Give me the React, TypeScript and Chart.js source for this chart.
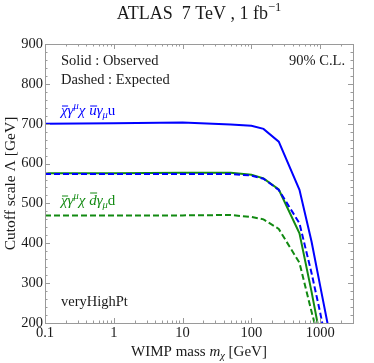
import { useEffect, useRef } from "react";
import { Chart, registerables } from "chart.js";

Chart.register(...registerables);

// ---- data ----
const masses = [0.1, 1, 10, 50, 100, 150, 250, 500, 750, 1000, 1300];
const uObserved = [700, 701, 703, 698, 695, 687, 655, 534, 404, 293, 193];
const uExpected = [574, 574, 574, 574, 570, 562, 534, 450, 325, 226, 128];
const dObserved = [576, 576, 577, 577, 572, 563, 535, 425, 278, 165, 60];
const dExpected = [470, 470, 470, 471, 466, 460, 436, 351, 228, 146, 50];

const xTickValues = [0.1, 1, 10, 100, 1000];
const xTickLabels = ["0.1", "1", "10", "100", "1000"];
const yTickValues = [200, 300, 400, 500, 600, 700, 800, 900];

const FONT = '"Liberation Serif", "DejaVu Serif", serif';
const BLUE = "#0000ff";
const GREEN = "#128a12";
const TEXT = "#1a1a1a";
const FRAME = "#9a9a9a";

type Seg = { t: string; it?: boolean; sup?: boolean; sub?: boolean; bar?: number };

function drawRich(
  ctx: CanvasRenderingContext2D,
  segs: Seg[],
  x: number,
  y: number,
  size: number,
  color: string,
  align: "left" | "center" | "right" = "left"
) {
  const fontFor = (s: Seg) =>
    `${s.it ? "italic " : ""}${s.sup || s.sub ? size * 0.7 : size}px ${FONT}`;
  let total = 0;
  const ws = segs.map((s) => {
    ctx.font = fontFor(s);
    const w = ctx.measureText(s.t).width;
    total += w;
    return w;
  });
  let cx = align === "left" ? x : align === "center" ? x - total / 2 : x - total;
  ctx.fillStyle = color;
  ctx.strokeStyle = color;
  ctx.textAlign = "left";
  ctx.textBaseline = "alphabetic";
  segs.forEach((s, i) => {
    ctx.font = fontFor(s);
    const dy = s.sup ? -size * 0.4 : s.sub ? size * 0.22 : 0;
    ctx.fillText(s.t, cx, y + dy);
    if (s.bar) {
      ctx.lineWidth = Math.max(1, size * 0.06);
      ctx.beginPath();
      const by = y - s.bar * size;
      ctx.moveTo(cx + 1, by);
      ctx.lineTo(cx + ws[i] + 0.5, by);
      ctx.stroke();
    }
    cx += ws[i];
  });
}

const framePlugin = {
  id: "framePlugin",
  afterDraw(chart: any) {
    const { ctx, chartArea: a, scales } = chart;
    const xs = scales.x;
    const ys = scales.y;
    ctx.save();
    ctx.strokeStyle = FRAME;
    ctx.lineWidth = 1;
    ctx.strokeRect(
      Math.round(a.left) + 0.5,
      Math.round(a.top) + 0.5,
      Math.round(a.right - a.left),
      Math.round(a.bottom - a.top)
    );
    ctx.beginPath();
    for (let d = -1; d <= 3; d++) {
      for (let k = 1; k <= 9; k++) {
        const v = k * Math.pow(10, d);
        if (v > xs.max) break;
        const px = Math.round(xs.getPixelForValue(v)) + 0.5;
        const len = k === 1 ? 5 : 2.5;
        ctx.moveTo(px, a.bottom);
        ctx.lineTo(px, a.bottom - len);
        ctx.moveTo(px, a.top);
        ctx.lineTo(px, a.top + len);
      }
    }
    for (let v = 200; v <= 900; v += 20) {
      const py = Math.round(ys.getPixelForValue(v)) + 0.5;
      const len = v % 100 === 0 ? 5 : 2.5;
      ctx.moveTo(a.left, py);
      ctx.lineTo(a.left + len, py);
      ctx.moveTo(a.right, py);
      ctx.lineTo(a.right - len, py);
    }
    ctx.stroke();

    // title
    drawRich(
      ctx,
      [{ t: "ATLAS  7 TeV , 1 fb" }, { t: "\u22121", sup: true }],
      (a.left + a.right) / 2,
      18.5,
      18,
      TEXT,
      "center"
    );
    // x title
    drawRich(
      ctx,
      [{ t: "WIMP mass " }, { t: "m", it: true }, { t: "\u03c7", it: true, sub: true }, { t: " [GeV]" }],
      (a.left + a.right) / 2,
      356,
      15,
      TEXT,
      "center"
    );
    // y title
    ctx.save();
    ctx.translate(15, (a.top + a.bottom) / 2);
    ctx.rotate(-Math.PI / 2);
    drawRich(ctx, [{ t: "Cutoff scale \u039b [GeV]" }], 0, 0, 15.5, TEXT, "center");
    ctx.restore();

    // annotations
    drawRich(ctx, [{ t: "Solid : Observed" }], 61, 65, 14.5, TEXT);
    drawRich(ctx, [{ t: "Dashed : Expected" }], 61, 84, 14.5, TEXT);
    drawRich(ctx, [{ t: "90% C.L." }], 345, 65, 14.5, TEXT, "right");
    drawRich(ctx, [{ t: "veryHighPt" }], 61, 306, 14.5, TEXT);
    drawRich(
      ctx,
      [
        { t: "\u03c7", it: true, bar: 0.6 },
        { t: "\u03b3", it: true },
        { t: "\u03bc", it: true, sup: true },
        { t: "\u03c7", it: true },
        { t: " " },
        { t: "u", it: true, bar: 0.6 },
        { t: "\u03b3", it: true },
        { t: "\u03bc", it: true, sub: true },
        { t: "u" },
      ],
      61,
      115,
      15,
      BLUE
    );
    drawRich(
      ctx,
      [
        { t: "\u03c7", it: true, bar: 0.6 },
        { t: "\u03b3", it: true },
        { t: "\u03bc", it: true, sup: true },
        { t: "\u03c7", it: true },
        { t: " " },
        { t: "d", it: true, bar: 0.8 },
        { t: "\u03b3", it: true },
        { t: "\u03bc", it: true, sub: true },
        { t: "d" },
      ],
      61,
      205,
      15,
      GREEN
    );
    ctx.restore();
  },
};

function pts(vals: number[]) {
  return masses.map((m, i) => ({ x: m, y: vals[i] }));
}

export default function App() {
  const ref = useRef<HTMLCanvasElement | null>(null);
  useEffect(() => {
    if (!ref.current) return;
    const chart = new Chart(ref.current, {
      type: "scatter",
      data: {
        datasets: [
          { data: pts(uObserved), borderColor: BLUE, borderWidth: 2, showLine: true, pointRadius: 0, tension: 0 },
          { data: pts(uExpected), borderColor: BLUE, borderWidth: 2, borderDash: [6, 3], showLine: true, pointRadius: 0, tension: 0 },
          { data: pts(dObserved), borderColor: GREEN, borderWidth: 2, showLine: true, pointRadius: 0, tension: 0 },
          { data: pts(dExpected), borderColor: GREEN, borderWidth: 2, borderDash: [6, 3], showLine: true, pointRadius: 0, tension: 0 },
        ],
      },
      options: {
        animation: false,
        responsive: true,
        maintainAspectRatio: false,
        layout: { padding: { top: 44, right: 21, left: 0, bottom: 0 } },
        plugins: { legend: { display: false }, tooltip: { enabled: false }, title: { display: false } },
        scales: {
          x: {
            type: "logarithmic",
            min: 0.1,
            max: 3000,
            grid: { display: false, drawTicks: false },
            border: { display: false },
            afterBuildTicks: (s: any) => {
              s.ticks = xTickValues.map((v) => ({ value: v }));
            },
            afterFit: (s: any) => {
              s.height = 40;
            },
            ticks: {
              autoSkip: false,
              maxRotation: 0,
              padding: 1,
              color: TEXT,
              font: { family: FONT, size: 14.5 },
              callback: (v: any) => {
                const i = xTickValues.indexOf(Number(v));
                return i >= 0 ? xTickLabels[i] : "";
              },
            },
          },
          y: {
            type: "linear",
            min: 200,
            max: 900,
            grid: { display: false, drawTicks: false },
            border: { display: false },
            afterBuildTicks: (s: any) => {
              s.ticks = yTickValues.map((v) => ({ value: v }));
            },
            afterFit: (s: any) => {
              s.width = 45;
            },
            ticks: {
              padding: 2,
              color: TEXT,
              font: { family: FONT, size: 14.5 },
              callback: (v: any) => String(v),
            },
          },
        },
      },
      plugins: [framePlugin],
    });
    return () => chart.destroy();
  }, []);
  return (
    <div style={{ position: "fixed", left: 0, top: 0, width: 374, height: 363 }}>
      <canvas ref={ref} />
    </div>
  );
}
